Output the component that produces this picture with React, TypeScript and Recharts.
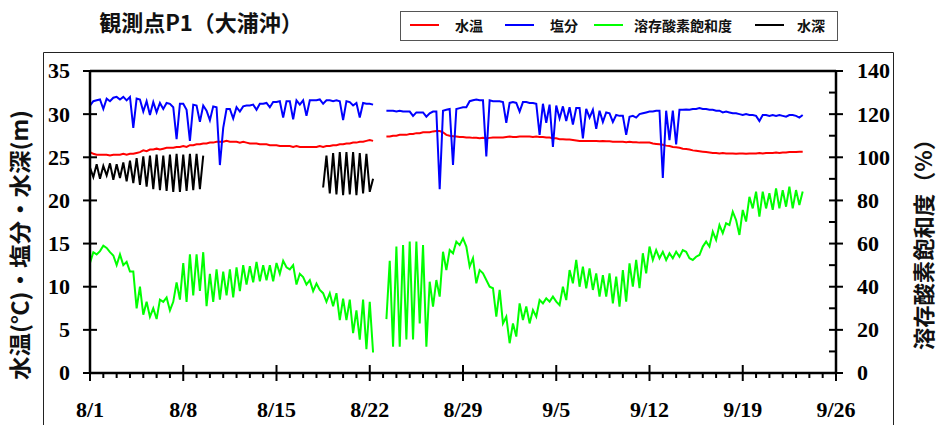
import React from 'react';
import { LineChart, Line, XAxis, YAxis, ReferenceLine } from 'recharts';

// 6-hourly readings, day 0 = 8/1 00:00
const samplesPerDay = 4;

const dateLabels = ['8/1', '8/8', '8/15', '8/22', '8/29', '9/5', '9/12', '9/19', '9/26'];
const leftTicks = [0, 5, 10, 15, 20, 25, 30, 35];
const rightTicks = [0, 10, 20, 30, 40, 50, 60, 70, 80, 90, 100, 110, 120, 130, 140];
const dayTicks = Array.from({ length: 57 }, (_, i) => i);

// 水温 (°C) : 8/1 - 8/22 08h, then 8/23 06h - 9/23 12h
const tempFirst = [
  25.6, 25.4, 25.3, 25.3, 25.3, 25.3, 25.2, 25.3, 25.3, 25.3, 25.4, 25.3, 25.4, 25.4, 25.5, 25.6,
  25.8, 25.7, 25.9, 25.9, 26.0, 25.9, 26.0, 26.1, 26.1, 26.1, 26.2, 26.2, 26.3, 26.2, 26.4, 26.4,
  26.5, 26.5, 26.6, 26.6, 26.7, 26.7, 26.8, 26.8, 26.8, 26.9, 26.8, 26.8, 26.8, 26.7, 26.8, 26.7,
  26.6, 26.6, 26.6, 26.5, 26.5, 26.5, 26.4, 26.4, 26.4, 26.3, 26.3, 26.3, 26.3, 26.2, 26.3, 26.2,
  26.2, 26.2, 26.2, 26.2, 26.2, 26.3, 26.2, 26.3, 26.3, 26.4, 26.4, 26.5, 26.5, 26.6, 26.6, 26.7,
  26.7, 26.8, 26.8, 26.9, 27.0, 26.9,
];
const tempSecond = [
  27.4, 27.4, 27.5,
  27.5, 27.6, 27.6, 27.6, 27.7, 27.7, 27.8, 27.8, 27.9, 27.9, 27.9, 28.0, 28.05, 28.05, 27.9, 27.6,
  27.5, 27.45, 27.4, 27.35, 27.35, 27.3, 27.3, 27.25, 27.25, 27.2, 27.25, 27.2, 27.25, 27.3, 27.3, 27.3,
  27.3, 27.35, 27.4, 27.35, 27.35, 27.4, 27.4, 27.4, 27.4, 27.35, 27.4, 27.35, 27.35, 27.3, 27.3, 27.2,
  27.2, 27.1, 27.1, 27.05, 27.05, 27.0, 26.95, 26.9, 26.9, 26.9, 26.9, 26.9, 26.9, 26.85, 26.9, 26.85,
  26.85, 26.8, 26.8, 26.8, 26.8, 26.75, 26.8, 26.75, 26.75, 26.7, 26.7, 26.7, 26.7, 26.6, 26.55, 26.5,
  26.45, 26.35, 26.3, 26.2, 26.15, 26.1, 26.0, 25.95, 25.9, 25.8, 25.75, 25.7, 25.65, 25.6, 25.55, 25.5,
  25.5, 25.45, 25.5, 25.45, 25.45, 25.45, 25.4, 25.45, 25.45, 25.4, 25.45, 25.45, 25.45, 25.5, 25.45, 25.5,
  25.5, 25.5, 25.55, 25.5, 25.55, 25.55, 25.6, 25.6,
  25.6, 25.65, 25.65,
];

// 塩分
const salFirst = [
  31.0, 31.5, 31.6, 31.7, 30.6, 31.8, 31.5, 31.9, 32.0, 31.7, 32.0, 31.6, 32.0, 28.4, 31.8, 31.7,
  30.3, 31.5, 29.9, 31.4, 30.2, 31.3, 30.6, 31.3, 31.2, 30.8, 27.1, 31.2, 31.2, 30.5, 26.9, 31.1,
  31.0, 29.1, 31.0, 30.4, 29.3, 30.9, 30.8, 24.1, 28.4, 30.6, 30.6, 29.5, 30.8, 30.3, 30.9, 31.0,
  31.0, 31.1, 30.5, 31.2, 31.2, 31.3, 30.8, 31.4, 31.4, 31.5, 29.6, 31.5, 31.5, 29.4, 31.6, 31.1,
  31.6, 29.8, 31.6, 31.6, 31.6, 31.7, 31.2, 31.6, 31.6, 31.5, 31.6, 31.5, 29.3, 31.5, 31.4, 31.0,
  31.3, 29.6, 31.3, 31.2, 31.2, 31.1,
];
const salSecond = [
  30.4, 30.4, 30.4,
  30.3, 30.4, 30.3, 30.3, 30.3, 29.8, 30.2, 30.2, 30.2, 29.7, 30.1, 30.3, 30.3, 21.3, 30.4, 30.5,
  30.6, 24.1, 30.6, 30.7, 30.8, 30.8, 31.5, 31.6, 31.7, 31.6, 31.6, 25.1, 31.6, 31.5, 31.5, 31.5,
  31.4, 29.0, 31.3, 31.4, 31.3, 30.3, 31.4, 31.4, 31.3, 31.3, 31.2, 27.6, 31.2, 29.0, 31.1, 26.2,
  31.0, 29.5, 30.9, 29.2, 30.8, 28.8, 30.7, 30.7, 27.2, 30.6, 29.6, 30.5, 28.3, 30.4, 29.1, 30.2,
  30.1, 29.1, 29.9, 29.8, 29.8, 27.6, 29.7, 29.8, 29.6, 30.0, 30.1, 30.2, 30.3, 30.3, 30.4, 30.4,
  22.6, 30.4, 27.0, 30.4, 26.5, 30.5, 30.5, 30.55, 30.5, 30.6, 30.6, 30.7, 30.6, 30.6, 30.5, 30.5,
  30.4, 30.4, 30.2, 30.3, 30.2, 30.1, 30.1, 30.0, 29.9, 30.0, 29.9, 29.9, 29.8, 29.2, 29.9, 29.9,
  29.8, 29.9, 29.8, 29.9, 29.8, 29.7, 29.9, 29.9,
  29.8, 29.6, 29.9,
];

// 溶存酸素飽和度 (%)
const doFirst = [
  51, 56, 55, 56.5, 59, 58, 56, 54.5, 50, 55, 50, 51.5, 47, 47, 30, 40,
  27, 33, 26, 30, 25, 34, 33, 35, 29, 33, 42, 34, 51, 33, 55, 36,
  55, 38, 56, 31, 46, 33, 48, 34, 47, 36, 48, 35, 49, 38, 50, 41,
  49.5, 42, 51.5, 42.5, 50, 43, 50, 42.5, 51, 46, 52, 49, 48, 50, 41, 46,
  44.5, 41, 43, 38, 41.5, 38.5, 37, 33, 37, 31, 37, 24.5, 34.5, 24.5, 34, 18.5,
  29, 15.5, 34, 11, 33, 9.5,
];
const doSecond = [
  25, 52, 12.2, 58.6, 12.2, 59.3, 15.5, 60.9, 15.5, 60.9, 23, 59.3, 12.2, 42.3, 30.8, 43.1,
  35.4, 56.2, 47.7, 57, 55.5, 60.9, 59.3, 62.4, 58.6, 49.3, 53.2, 41.6, 47.7, 46.2, 43.1, 40,
  39.3, 26.1, 38.5, 23, 26.1, 13.8, 23, 16.9, 32.3, 24.6, 30.8, 23, 29.2, 26.1, 33.8, 32.3,
  34.6, 33.1, 35.4, 33.1, 31.5, 40, 33.8, 47.7, 41.6, 52.4, 40, 49.3, 39.3, 48.5, 38.5, 46.2,
  35.4, 45.4, 35.4, 46.2, 32.3, 44.7, 30.8, 47.7, 33.1, 50.8, 40, 52.4, 39.3, 55.5, 46.2, 58.6,
  52.4, 57, 53.2, 56.2, 52.4, 55.5, 53.2, 56.2, 53.9, 57, 56.2, 53.2, 52.4, 53.9, 54.7, 58.6,
  60.9, 58.6, 65.5, 61.7, 68.6, 64.8, 69.4, 68.6, 74.8, 70.9, 64, 75.6, 70.2, 81.7, 76.3, 84.1,
  72.5, 84.1, 76.3, 83.3, 75.6, 85.6, 76.3, 84.8, 77.1, 86.4, 76.3, 84.8, 77.9, 84.1,
];

// 水深 (m) : 8/1 - 8/9 12h and 8/18 12h - 8/22 06h
const depthFirst = [
  23.8, 22.7, 24.2, 22.5, 24.0, 22.9, 24.3, 22.4, 24.2, 22.6, 24.4, 22.2, 24.6, 22.0, 24.9, 21.8,
  25.1, 21.6, 25.2, 21.3, 25.3, 21.2, 25.2, 21.1, 25.3, 21.0, 25.4, 21.0, 25.3, 21.1, 25.4, 21.2,
  25.4, 21.3, 25.2,
];
const depthSecond = [
  21.5, 25.2, 20.8, 25.5, 20.7, 25.6, 20.6, 25.6, 20.7, 25.6, 20.6, 25.5, 20.8, 25.4, 21.0, 22.5,
];

const gap = (n: number) => new Array(n).fill(null);

const waterTemp = [...tempFirst, ...gap(3), ...tempSecond];
const salinity = [...salFirst, ...gap(3), ...salSecond];
const oxygen = [...doFirst, ...gap(3), ...doSecond];
const waterDepth = [...depthFirst, ...gap(35), ...depthSecond, ...gap(3 + doSecond.length)];

const data = waterTemp.map((v, i) => ({
  t: i / samplesPerDay,
  temp: v,
  sal: salinity[i],
  oxy: oxygen[i],
  depth: waterDepth[i],
}));

const legendItems = [
  { name: '水温', color: '#ff0000', lx: 410, tx: 455 },
  { name: '塩分', color: '#0000ff', lx: 505, tx: 550 },
  { name: '溶存酸素飽和度', color: '#00ff00', lx: 594, tx: 634 },
  { name: '水深', color: '#000000', lx: 755, tx: 797 },
];

const serif = '"Liberation Serif", "Times New Roman", serif';
const cjk = '"Noto Sans CJK JP", "Noto Sans", sans-serif';

function DayTick(props: any) {
  const { x, y, payload } = props;
  const v = payload.value;
  const major = v % 7 === 0;
  return (
    <g>
      <line x1={x} x2={x} y1={major ? y - 8 : y} y2={major ? y + 8 : y + 5} stroke="#000" strokeWidth={2} />
      {major && (
        <text x={x} y={y + 44} textAnchor="middle" fontFamily={serif} fontWeight="bold" fontSize={22} fill="#000">
          {dateLabels[v / 7]}
        </text>
      )}
    </g>
  );
}

function LeftTick(props: any) {
  const { x, y, payload } = props;
  return (
    <g>
      <line x1={x - 7} x2={x + 7} y1={y} y2={y} stroke="#000" strokeWidth={2} />
      <text x={x - 20} y={y} dy="0.34em" textAnchor="end" fontFamily={serif} fontWeight="bold" fontSize={22} fill="#000">
        {payload.value}
      </text>
    </g>
  );
}

function RightTick(props: any) {
  const { x, y, payload } = props;
  const major = payload.value % 20 === 0;
  return (
    <g>
      <line x1={x - 7} x2={major ? x + 7 : x} y1={y} y2={y} stroke="#000" strokeWidth={2} />
      {major && (
        <text x={x + 21} y={y} dy="0.34em" textAnchor="start" fontFamily={serif} fontWeight="bold" fontSize={22} fill="#000">
          {payload.value}
        </text>
      )}
    </g>
  );
}

export default function App() {
  return (
    <div style={{ position: 'absolute', left: 0, top: 0, width: 938, height: 425, overflow: 'hidden', background: '#fff' }}>
      <div style={{ position: 'absolute', left: 0, top: 0 }}>
        <LineChart width={938} height={425} data={data} margin={{ top: 71, right: 42, bottom: 0, left: 0 }}>
          <XAxis
            dataKey="t"
            type="number"
            domain={[0, 56]}
            ticks={dayTicks}
            interval={0}
            height={52}
            tickSize={0}
            tickMargin={0}
            tickLine={false}
            axisLine={{ stroke: '#000', strokeWidth: 2.5 }}
            tick={<DayTick />}
          />
          <YAxis
            yAxisId="left"
            domain={[0, 35]}
            ticks={leftTicks}
            interval={0}
            width={90}
            tickSize={0}
            tickMargin={0}
            tickLine={false}
            axisLine={{ stroke: '#000', strokeWidth: 2.5 }}
            tick={<LeftTick />}
          />
          <YAxis
            yAxisId="right"
            orientation="right"
            domain={[0, 140]}
            ticks={rightTicks}
            interval={0}
            width={60}
            tickSize={0}
            tickMargin={0}
            tickLine={false}
            axisLine={{ stroke: '#000', strokeWidth: 2.5 }}
            tick={<RightTick />}
          />
          <ReferenceLine yAxisId="left" y={35} stroke="#000" strokeWidth={2.5} />
          <Line yAxisId="left" dataKey="depth" stroke="#000000" strokeWidth={2} dot={false} isAnimationActive={false} />
          <Line yAxisId="right" dataKey="oxy" stroke="#00ff00" strokeWidth={2} dot={false} isAnimationActive={false} />
          <Line yAxisId="left" dataKey="temp" stroke="#ff0000" strokeWidth={2} dot={false} isAnimationActive={false} />
          <Line yAxisId="left" dataKey="sal" stroke="#0000ff" strokeWidth={2} dot={false} isAnimationActive={false} />
        </LineChart>
      </div>
      <svg width={938} height={425} style={{ position: 'absolute', left: 0, top: 0, pointerEvents: 'none' }}>
        <path d="M43.5,440 V52.5 H893.5 V440" fill="none" stroke="#222" strokeWidth={1} />
        <text x={201} y={31} textAnchor="middle" fontFamily={cjk} fontWeight="bold" fontSize={22} fill="#111">
          観測点P1（大浦沖）
        </text>
        <text
          transform="translate(20,245) rotate(-90)"
          textAnchor="middle"
          dy="0.36em"
          fontFamily={cjk}
          fontWeight="bold"
          fontSize={22}
          textLength={270}
          lengthAdjust="spacingAndGlyphs"
          fill="#111"
        >
          水温(℃)・塩分・水深(m)
        </text>
        <text
          transform="translate(924,239) rotate(-90)"
          textAnchor="middle"
          dy="0.36em"
          fontFamily={cjk}
          fontWeight="bold"
          fontSize={22}
          textLength={222}
          lengthAdjust="spacingAndGlyphs"
          fill="#111"
        >
          溶存酸素飽和度（%）
        </text>
        <rect x={400.5} y={11.5} width={437} height={29} fill="#fff" stroke="#555" strokeWidth={1} />
        {legendItems.map((it) => (
          <g key={it.name}>
            <line x1={it.lx} x2={it.lx + 29} y1={25} y2={25} stroke={it.color} strokeWidth={2} />
            <text x={it.tx} y={31} fontFamily={cjk} fontWeight="bold" fontSize={14} fill="#111">
              {it.name}
            </text>
          </g>
        ))}
      </svg>
    </div>
  );
}
